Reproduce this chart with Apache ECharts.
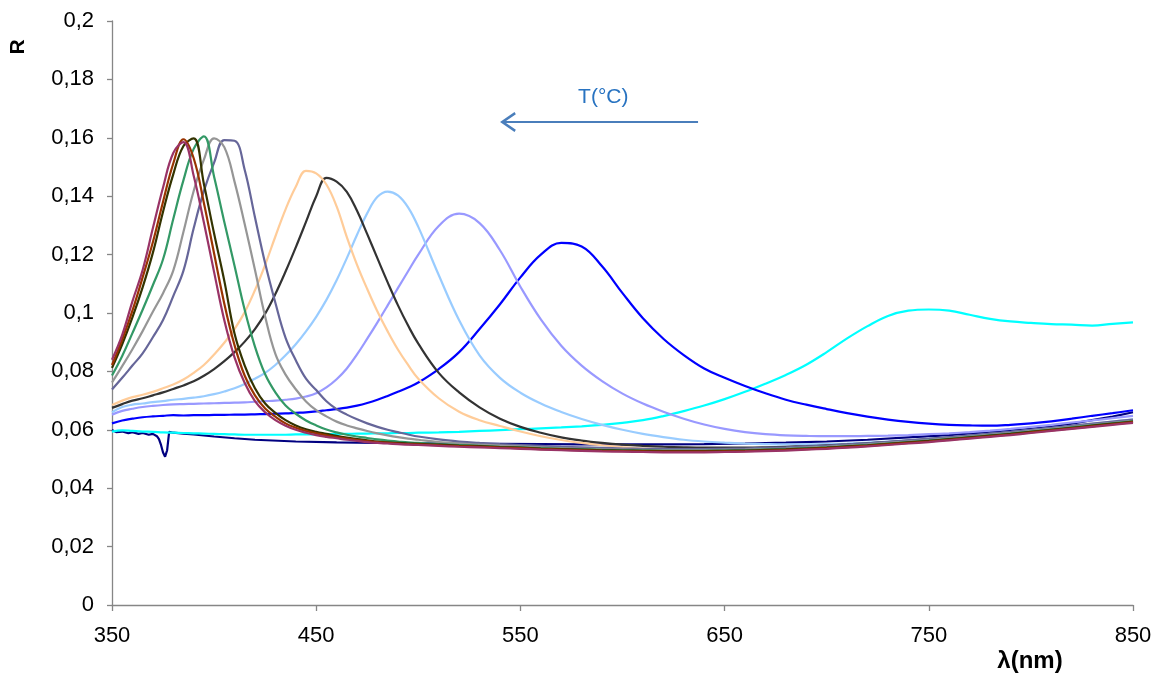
<!DOCTYPE html>
<html><head><meta charset="utf-8">
<script src="https://cdn.jsdelivr.net/npm/echarts@6/dist/echarts.min.js"></script>
<style>html,body{margin:0;padding:0;background:#fff}#main{width:1158px;height:675px}</style>
</head><body><div id="main"></div>
<script>
// wavelength grid (nm)
const wl = [350,355,360,365,370,375,380,385,390,395,400,405,410,415,420,425,430,435,440,445,450,455,460,465,470,475,480,485,490,495,500,
  510,520,530,540,550,560,570,580,590,600,610,620,630,640,650,660,670,680,690,700,710,720,730,740,750,760,770,780,790,800,810,820,830,840,850];

const maroon = [0.0840,0.0925,0.1040,0.1147,0.1290,0.1430,0.1548,0.1585,0.1470,0.1310,0.1140,0.0975,0.0848,0.0760,0.0698,0.0660,0.0633,0.0614,0.0600,0.0590,0.0582,0.0576,0.0571,0.0566,0.0562,0.0558,0.0555,0.0553,0.0551,0.0549,0.0548,
  0.0545,0.0542,0.0540,0.0537,0.0535,0.0532,0.0530,0.0528,0.0526,0.0525,0.0524,0.0523,0.0523,0.0523,0.0524,0.0525,0.0527,0.0529,0.0532,0.0535,0.0539,0.0543,0.0548,0.0553,0.0558,0.0564,0.0570,0.0576,0.0582,0.0589,0.0596,0.0603,0.0610,0.0617,0.0624];
const brown = [0.0822,0.0909,0.1008,0.1122,0.1242,0.1381,0.1512,0.1595,0.1530,0.1377,0.1204,0.1032,0.0890,0.0785,0.0718,0.0673,0.0645,0.0622,0.0607,0.0596,0.0588,0.0581,0.0575,0.0570,0.0565,0.0561,0.0558,0.0555,0.0553,0.0551,0.0550,
  0.0547,0.0544,0.0542,0.0539,0.0537,0.0534,0.0532,0.0530,0.0528,0.0527,0.0526,0.0525,0.0525,0.0525,0.0526,0.0527,0.0529,0.0531,0.0534,0.0537,0.0541,0.0545,0.0550,0.0555,0.0560,0.0566,0.0572,0.0578,0.0584,0.0591,0.0598,0.0605,0.0612,0.0619,0.0626];
const olive = [0.0812,0.0893,0.0985,0.1088,0.1206,0.1347,0.1475,0.1572,0.1598,0.1442,0.1272,0.1110,0.0930,0.0820,0.0742,0.0690,0.0658,0.0633,0.0615,0.0602,0.0593,0.0586,0.0579,0.0573,0.0568,0.0564,0.0560,0.0557,0.0555,0.0553,0.0552,
  0.0549,0.0546,0.0544,0.0541,0.0539,0.0536,0.0534,0.0532,0.0530,0.0529,0.0528,0.0527,0.0527,0.0527,0.0528,0.0529,0.0531,0.0533,0.0536,0.0539,0.0543,0.0547,0.0552,0.0557,0.0562,0.0568,0.0574,0.0580,0.0586,0.0593,0.0600,0.0607,0.0614,0.0621,0.0628];
const green = [0.0786,0.0853,0.0931,0.1011,0.1095,0.1184,0.1322,0.1455,0.1562,0.1605,0.1467,0.1312,0.1162,0.1010,0.0885,0.0790,0.0728,0.0683,0.0655,0.0632,0.0615,0.0601,0.0591,0.0583,0.0577,0.0572,0.0567,0.0563,0.0560,0.0557,0.0555,
  0.0551,0.0548,0.0545,0.0542,0.0540,0.0537,0.0535,0.0533,0.0531,0.0530,0.0529,0.0528,0.0528,0.0528,0.0529,0.0530,0.0532,0.0534,0.0537,0.0540,0.0544,0.0548,0.0553,0.0558,0.0563,0.0569,0.0575,0.0581,0.0587,0.0594,0.0601,0.0608,0.0615,0.0622,0.0629];
const gray = [0.0762,0.0818,0.0876,0.0938,0.1004,0.1068,0.1145,0.1278,0.1418,0.1525,0.1598,0.1568,0.1450,0.1304,0.1148,0.0988,0.0860,0.0789,0.0739,0.0697,0.0667,0.0646,0.0628,0.0615,0.0605,0.0596,0.0588,0.0581,0.0575,0.0570,0.0566,
  0.0558,0.0553,0.0549,0.0546,0.0543,0.0540,0.0537,0.0535,0.0533,0.0532,0.0531,0.0530,0.0530,0.0530,0.0531,0.0532,0.0534,0.0536,0.0539,0.0542,0.0546,0.0550,0.0555,0.0560,0.0565,0.0571,0.0577,0.0583,0.0589,0.0596,0.0603,0.0610,0.0617,0.0624,0.0631];
const slate = [0.0738,0.0778,0.0820,0.0862,0.0917,0.0976,0.1058,0.1145,0.1290,0.1418,0.1515,0.1592,0.1590,0.1490,0.1328,0.1170,0.1035,0.0915,0.0838,0.0775,0.0736,0.0698,0.0671,0.0652,0.0636,0.0622,0.0610,0.0600,0.0592,0.0584,0.0577,
  0.0567,0.0560,0.0555,0.0551,0.0548,0.0545,0.0542,0.0540,0.0538,0.0536,0.0535,0.0534,0.0534,0.0534,0.0535,0.0536,0.0538,0.0540,0.0543,0.0546,0.0550,0.0554,0.0559,0.0564,0.0569,0.0575,0.0581,0.0587,0.0593,0.0600,0.0607,0.0614,0.0621,0.0628,0.0635];
const orange = [0.0685,0.0700,0.0712,0.0720,0.0730,0.0742,0.0755,0.0772,0.0795,0.0822,0.0858,0.0898,0.0945,0.1003,0.1078,0.1165,0.1262,0.1355,0.1432,0.1487,0.1478,0.1440,0.1365,0.1260,0.1165,0.1082,0.1005,0.0937,0.0875,0.0822,0.0775,
  0.0708,0.0662,0.0633,0.0613,0.0594,0.0578,0.0565,0.0555,0.0547,0.0541,0.0536,0.0532,0.0530,0.0529,0.0529,0.0530,0.0531,0.0533,0.0536,0.0539,0.0543,0.0547,0.0552,0.0557,0.0562,0.0568,0.0574,0.0580,0.0586,0.0593,0.0600,0.0607,0.0614,0.0621,0.0628];
const darkgray = [0.0675,0.0688,0.0700,0.0708,0.0718,0.0728,0.0740,0.0752,0.0766,0.0785,0.0808,0.0835,0.0866,0.0902,0.0945,0.0998,0.1065,0.1142,0.1225,0.1312,0.1400,0.1463,0.1450,0.1415,0.1350,0.1270,0.1187,0.1105,0.1027,0.0957,0.0895,
  0.0795,0.0728,0.0677,0.0638,0.0610,0.0590,0.0574,0.0563,0.0555,0.0549,0.0545,0.0542,0.0540,0.0539,0.0539,0.0539,0.0540,0.0542,0.0544,0.0547,0.0550,0.0554,0.0558,0.0563,0.0568,0.0573,0.0579,0.0585,0.0591,0.0597,0.0604,0.0611,0.0618,0.0625,0.0632];
const lightblue = [0.0660,0.0678,0.0686,0.0690,0.0695,0.0698,0.0703,0.0706,0.0710,0.0715,0.0722,0.0731,0.0742,0.0757,0.0775,0.0795,0.0822,0.0855,0.0893,0.0937,0.0987,0.1045,0.1112,0.1188,0.1268,0.1342,0.1398,0.1416,0.1403,0.1362,0.1295,
  0.1130,0.0975,0.0855,0.0778,0.0727,0.0690,0.0661,0.0637,0.0617,0.0600,0.0586,0.0575,0.0566,0.0560,0.0556,0.0553,0.0551,0.0550,0.0550,0.0551,0.0553,0.0556,0.0560,0.0564,0.0569,0.0574,0.0580,0.0586,0.0592,0.0599,0.0606,0.0613,0.0620,0.0628,0.0636];
const lavender = [0.0652,0.0665,0.0672,0.0678,0.0682,0.0685,0.0687,0.0688,0.0689,0.0690,0.0691,0.0692,0.0693,0.0694,0.0696,0.0698,0.0700,0.0703,0.0707,0.0714,0.0725,0.0745,0.0773,0.0810,0.0858,0.0912,0.0968,0.1026,0.1085,0.1143,0.1200,
  0.1298,0.1340,0.1308,0.1215,0.1090,0.0978,0.0888,0.0820,0.0767,0.0724,0.0690,0.0662,0.0638,0.0618,0.0603,0.0592,0.0585,0.0581,0.0579,0.0578,0.0578,0.0579,0.0580,0.0582,0.0585,0.0588,0.0592,0.0597,0.0603,0.0610,0.0617,0.0625,0.0632,0.0640,0.0648];
const blue = [0.0622,0.0632,0.0638,0.0643,0.0646,0.0648,0.0650,0.0649,0.0650,0.0650,0.0651,0.0651,0.0652,0.0652,0.0653,0.0654,0.0655,0.0656,0.0658,0.0660,0.0663,0.0667,0.0671,0.0676,0.0683,0.0692,0.0703,0.0716,0.0730,0.0745,0.0762,
  0.0808,0.0866,0.0945,0.1030,0.1122,0.1200,0.1240,0.1228,0.1160,0.1068,0.0982,0.0912,0.0856,0.0810,0.0778,0.0750,0.0725,0.0703,0.0686,0.0671,0.0657,0.0645,0.0635,0.0627,0.0621,0.0617,0.0615,0.0614,0.0617,0.0622,0.0629,0.0638,0.0648,0.0657,0.0667];
const cyan = [0.0594,0.0598,0.0596,0.0594,0.0593,0.0591,0.0590,0.0589,0.0588,0.0587,0.0586,0.0585,0.0584,0.0583,0.0583,0.0583,0.0583,0.0583,0.0584,0.0584,0.0585,0.0585,0.0586,0.0586,0.0587,0.0587,0.0588,0.0588,0.0589,0.0589,0.0590,
  0.0591,0.0593,0.0596,0.0599,0.0602,0.0605,0.0608,0.0612,0.0617,0.0624,0.0633,0.0647,0.0664,0.0683,0.0705,0.0730,0.0758,0.0788,0.0823,0.0866,0.0913,0.0955,0.0990,0.1008,0.1012,0.1008,0.0994,0.0980,0.0971,0.0966,0.0962,0.0960,0.0957,0.0963,0.0968];

// navy curve has its own finer grid (narrow dip near 376 nm)
const navyWl = [350,352,355,358,360,363,365,368,370,372,373,374,375,376,377,378,380,385,390,400,410,420,440,460,480,500,520,540,560,580,600,620,640,660,680,700,720,740,760,780,800,810,820,830,840,850];
const navy = [0.0599,0.0592,0.0594,0.0588,0.0592,0.0586,0.0589,0.0583,0.0586,0.0578,0.0568,0.0548,0.0522,0.0508,0.0530,0.0593,0.0590,0.0587,0.0584,0.0577,0.0571,0.0566,0.0560,0.0557,0.0555,0.0554,0.0553,0.0552,0.0551,0.0550,0.0550,0.0550,0.0551,0.0553,0.0556,0.0560,0.0566,0.0574,0.0582,0.0592,0.0603,0.0611,0.0621,0.0633,0.0645,0.0660];

// annotation arrow (data coordinates)
const arrowFrom = [544.2, 0.1654];
const arrowTo = [637, 0.1654];
const arrowText = 'T(°C)';

const FONT = '"Liberation Sans", Arial, Helvetica, sans-serif';
const chart = echarts.init(document.getElementById('main'), null, {renderer: 'canvas'});

function mk(name, xs, ys, color, smooth) {
  return {
    name, type: 'line', data: xs.map((x, i) => [x, ys[i]]),
    showSymbol: false, symbol: 'none', smooth: smooth,
    lineStyle: {color, width: 2.2}, itemStyle: {color},
    emphasis: {disabled: true}, silent: true
  };
}

const chevron = 'path://M50,0 L100,85 L89,93 L55,35 L55,100 L45,100 L45,35 L11,93 L0,85 Z';

const series = [
  mk('navy', navyWl, navy, '#000080', false),
  mk('cyan', wl, cyan, '#00FFFF', 0.4),
  mk('blue', wl, blue, '#0000FF', 0.4),
  mk('lavender', wl, lavender, '#9999FF', 0.4),
  mk('lightblue', wl, lightblue, '#99CCFF', 0.4),
  mk('darkgray', wl, darkgray, '#333333', 0.4),
  mk('orange', wl, orange, '#FFCC99', 0.4),
  mk('slate', wl, slate, '#666699', 0.4),
  mk('gray', wl, gray, '#969696', 0.4),
  mk('green', wl, green, '#339966', 0.4),
  mk('olive', wl, olive, '#333300', 0.4),
  mk('brown', wl, brown, '#993300', 0.4),
  mk('maroon', wl, maroon, '#993366', 0.4),
  {
    type: 'line', data: [], silent: true,
    markLine: {
      silent: true, animation: false,
      symbol: [chevron, 'none'], symbolSize: [20, 17],
      lineStyle: {color: '#4A7EBB', width: 2, type: 'solid'},
      label: {show: true, position: 'insideMiddleTop', formatter: arrowText, color: '#2873C1',
              fontSize: 21, fontFamily: FONT, distance: 14},
      emphasis: {disabled: true},
      data: [[{coord: arrowFrom}, {coord: arrowTo}]]
    }
  }
];

const option = {
  animation: false,
  backgroundColor: '#ffffff',
  grid: {left: 112, right: 25, top: 21, bottom: 70},
  xAxis: {
    type: 'value', min: 350, max: 850, interval: 100,
    axisLine: {show: true, lineStyle: {color: '#868686', width: 1.3}},
    axisTick: {show: true, length: 6, lineStyle: {color: '#868686', width: 1.3}},
    splitLine: {show: false},
    axisLabel: {fontSize: 22, color: '#000', fontFamily: FONT, margin: 20}
  },
  yAxis: {
    type: 'value', min: 0, max: 0.2, interval: 0.02,
    axisLine: {show: true, lineStyle: {color: '#868686', width: 1.3}},
    axisTick: {show: true, length: 5, lineStyle: {color: '#868686', width: 1.3}},
    splitLine: {show: false},
    axisLabel: {fontSize: 22, color: '#000', fontFamily: FONT, margin: 18,
      formatter: v => String(+v.toFixed(2)).replace('.', ',')}
  },
  series: series,
  graphic: [
    {type: 'text', x: 18, y: 47, rotation: Math.PI / 2, silent: true,
     style: {text: 'R', font: 'bold 21px ' + FONT, fill: '#000', textAlign: 'center', textVerticalAlign: 'middle'}},
    {type: 'text', x: 1030, y: 661, silent: true,
     style: {text: 'λ(nm)', font: 'bold 24px ' + FONT, fill: '#000', textAlign: 'center', textVerticalAlign: 'middle'}}
  ]
};
chart.setOption(option);
</script>
</body></html>
